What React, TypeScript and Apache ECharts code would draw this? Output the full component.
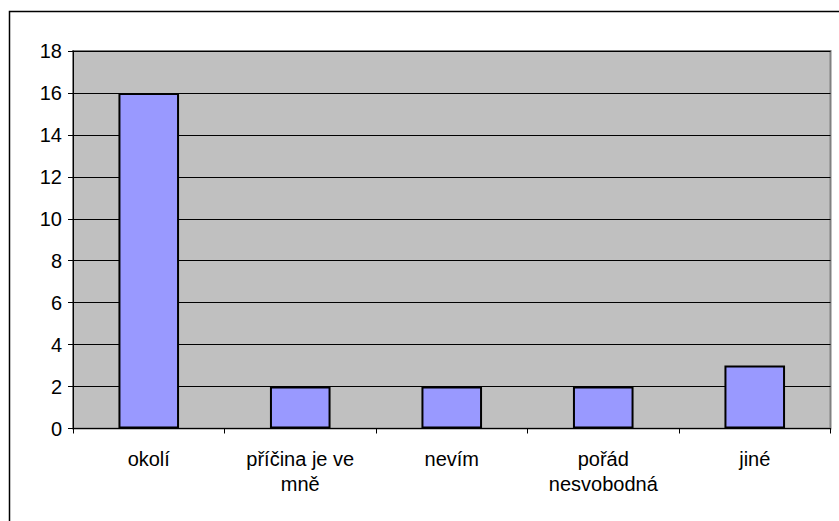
import React, { useEffect, useRef } from "react";
import * as echarts from "echarts";

const categories = ["okolí", "příčina je ve mně", "nevím", "pořád nesvobodná", "jiné"];
const values = [16, 2, 2, 2, 3];
const yMin = 0;
const yMax = 18;
const yInterval = 2;
// how each category label wraps (as in the original)
const wrappedLabels: Record<string, string> = {
  "příčina je ve mně": "příčina je ve\nmně",
  "pořád nesvobodná": "pořád\nnesvobodná",
};

export default function App() {
  const ref = useRef<HTMLDivElement>(null);
  useEffect(() => {
    if (!ref.current) return;
    const chart = echarts.init(ref.current, null, { renderer: "svg" });
    const font = "Arial, 'Liberation Sans', sans-serif";
    chart.setOption({
      animation: false,
      backgroundColor: "#ffffff",
      grid: {
        left: 73,
        top: 51,
        right: 8.5,
        bottom: 92.5,
        show: true,
        backgroundColor: "#C0C0C0",
        borderColor: "#808080",
        borderWidth: 2,
      },
      graphic: [
        {
          type: "rect",
          shape: { x: 9.5, y: 11.5, width: 1000, height: 1000 },
          style: { fill: "none", stroke: "#000", lineWidth: 1.5 },
          silent: true,
          z: 0,
        },
      ],
      xAxis: {
        type: "category",
        data: categories,
        boundaryGap: true,
        axisLine: { show: true, lineStyle: { color: "#000", width: 1 } },
        axisTick: { show: true, length: 5, alignWithLabel: false, lineStyle: { color: "#000" } },
        axisLabel: {
          color: "#000",
          fontSize: 20,
          fontFamily: font,
          margin: 18,
          lineHeight: 25,
          interval: 0,
          formatter: (v: string) => wrappedLabels[v] ?? v,
        },
        splitLine: { show: false },
      },
      yAxis: {
        type: "value",
        min: yMin,
        max: yMax,
        interval: yInterval,
        axisLine: { show: true, lineStyle: { color: "#000", width: 1 } },
        axisTick: { show: true, length: 5, lineStyle: { color: "#000" } },
        axisLabel: { color: "#000", fontSize: 20, fontFamily: font, margin: 11 },
        splitLine: { show: true, lineStyle: { color: "#000", width: 1 } },
      },
      series: [
        {
          type: "bar",
          data: values,
          barWidth: "40%",
          itemStyle: { color: "#9999FF", borderColor: "#000", borderWidth: 2 },
        },
      ],
    });
    return () => chart.dispose();
  }, []);
  return (
    <div
      ref={ref}
      style={{ position: "fixed", left: 0, top: 0, width: 839, height: 521 }}
    />
  );
}
